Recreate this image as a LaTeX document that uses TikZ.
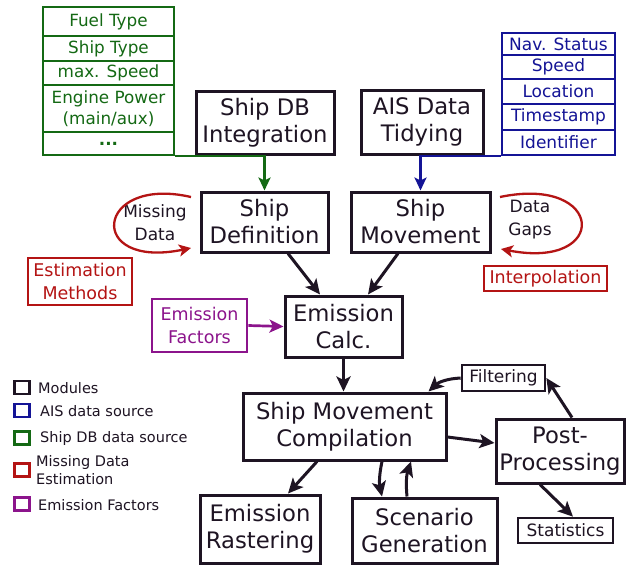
\documentclass[tikz,border=0pt]{standalone}
\usepackage{fontspec}
\setmainfont{DejaVu Sans}
\usetikzlibrary{arrows.meta}
\definecolor{myblack}{RGB}{30,20,35}
\definecolor{mygreen}{RGB}{20,105,20}
\definecolor{myblue}{RGB}{20,20,150}
\definecolor{myred}{RGB}{180,20,20}
\definecolor{mypurple}{RGB}{140,20,140}
\tikzset{
  module/.style={draw=myblack, line width=3pt, inner sep=0pt, align=center,
    text=myblack, font=\fontsize{22.7}{27}\selectfont},
  smallmod/.style={draw=myblack, line width=2.7pt, inner sep=0pt, align=center,
    text=myblack, font=\fontsize{17}{20}\selectfont},
  greenrow/.style={draw=mygreen, line width=2.3pt, inner sep=0pt, align=center,
    text=mygreen, minimum width=131pt, font=\fontsize{16.8}{21}\selectfont},
  bluerow/.style={draw=myblue, line width=2.3pt, inner sep=0pt, align=center,
    text=myblue, minimum width=113pt, font=\fontsize{17}{21}\selectfont},
  redbox/.style={draw=myred, line width=2.3pt, inner sep=0pt, align=center,
    text=myred, font=\fontsize{17.5}{23}\selectfont},
  purpbox/.style={draw=mypurple, line width=2.7pt, inner sep=0pt, align=center,
    text=mypurple, font=\fontsize{17.5}{23}\selectfont},
  lbl/.style={inner sep=0pt, align=center, text=myblack, font=\fontsize{17}{23}\selectfont},
  legsq/.style={draw=#1, line width=2.2pt, minimum width=15pt, minimum height=13pt, inner sep=0pt},
  legtxt/.style={inner sep=0pt, anchor=west, align=left, text=myblack, font=\fontsize{14.5}{18}\selectfont},
  arr/.style={draw=myblack, line width=3pt, -{Stealth[length=15pt,width=14pt,inset=3.5pt]}},
  carr/.style={line width=2.5pt, -{Stealth[length=13pt,width=12pt,inset=3pt]}},
  redarr/.style={draw=myred, line width=2.3pt, -{Stealth[length=12pt,width=12pt,inset=3pt]}}
}
\begin{document}
\begin{tikzpicture}[x=1pt,y=-1pt]
\useasboundingbox[fill=white] (0,0) rectangle (626,565);

% green table
\node[greenrow, minimum height=29pt] (g1) at (108.5,21.5) {Fuel Type};
\node[greenrow, minimum height=25pt] (g2) at (108.5,48.5) {Ship Type};
\node[greenrow, minimum height=24pt] (g3) at (108.5,73) {max. Speed};
\node[greenrow, minimum height=47pt] (g4) at (108.5,108.5) {Engine Power\\(main/aux)};
\node[greenrow, minimum height=23pt] (g5) at (108.5,143.5) {\textbf{...}};

% blue table
\node[bluerow, minimum height=22pt] (b1) at (558.5,44) {Nav. Status};
\node[bluerow, minimum height=24pt] (b2) at (558.5,67) {Speed};
\node[bluerow, minimum height=25pt] (b3) at (558.5,91.5) {Location};
\node[bluerow, minimum height=26pt] (b4) at (558.5,117) {Timestamp};
\node[bluerow, minimum height=25pt] (b5) at (558.5,142.5) {Identifier};

% modules
\node[module, minimum width=138pt, minimum height=63pt] (sdb) at (265,122.5) {Ship DB\\Integration};
\node[module, minimum width=122pt, minimum height=64pt] (ais) at (422,122) {AIS Data\\Tidying};
\node[module, minimum width=127pt, minimum height=60pt] (sdef) at (264.5,222) {Ship\\Definition};
\node[module, minimum width=139pt, minimum height=60pt] (smov) at (420.5,222) {Ship\\Movement};
\node[module, minimum width=117pt, minimum height=61pt] (ecalc) at (343.5,326.5) {Emission\\Calc.};
\node[module, minimum width=203pt, minimum height=67pt] (smc) at (344.5,426.5) {Ship Movement\\Compilation};
\node[module, minimum width=128pt, minimum height=64pt] (post) at (560,451) {Post-\\Processing};
\node[module, minimum width=120pt, minimum height=68pt] (rast) at (260,529) {Emission\\Rastering};
\node[module, minimum width=145pt, minimum height=65pt] (scen) at (424.5,530.5) {Scenario\\Generation};
\node[smallmod, minimum width=83pt, minimum height=26pt] (filt) at (503.5,378) {Filtering};
\node[smallmod, minimum width=95pt, minimum height=25pt] (stat) at (565.5,530.5) {Statistics};

% red / purple
\node[redbox, minimum width=104pt, minimum height=47pt] (est) at (80,281.5) {Estimation\\Methods};
\node[redbox, minimum width=123pt, minimum height=25pt] (interp) at (545.5,278.5) {Interpolation};
\node[purpbox, minimum width=95pt, minimum height=53pt] (ef) at (199.5,325.5) {Emission\\Factors};

\node[lbl] (mdl) at (155,223) {Missing\\Data};
\node[lbl] (dgl) at (530,220) {Data\\Gaps};

% data source connectors
\draw[mygreen, carr] (g5.south east) -| (sdef.north);
\draw[myblue, carr] (b5.south west) -| (smov.north);

% loops
\coordinate (md1) at (191,197);
\coordinate (md2) at (191,248);
\draw[redarr] (md1) .. controls (95,175) and (85,270) .. (md2);
\coordinate (dg1) at (500,197);
\coordinate (dg2) at (501,249);
\draw[redarr] (dg1) .. controls (605,175) and (610,270) .. (dg2);

% main flow
\draw[arr] ([xshift=23.5pt]sdef.south) -- ([xshift=-23.5pt]ecalc.north);
\draw[arr] ([xshift=-22.5pt]smov.south) -- ([xshift=24.5pt]ecalc.north);
\draw[draw=mypurple, line width=2.7pt, -{Stealth[length=14pt,width=13pt,inset=3.5pt]}] (ef.east) -- (ecalc.west);
\draw[arr] (ecalc.south) -- (ecalc.south |- smc.north);
\draw[arr] ([yshift=-10.5pt]smc.east) -- ([yshift=8pt]post.west);
\draw[arr] ([xshift=12pt]post.north) -- (filt.east);
\draw[arr] (filt.west) to[bend right=20] ([xshift=84pt]smc.north);
\draw[arr] ([xshift=-20pt]post.south) -- ([xshift=7.5pt]stat.north);
\draw[arr] ([xshift=-27.5pt]smc.south) -- ([xshift=28pt]rast.north);
\draw[arr] ([xshift=37.5pt]smc.south) to[bend right=12] ([xshift=-42.5pt]scen.north);
\draw[arr] ([xshift=-17.5pt]scen.north) to[bend left=12] ([xshift=66.5pt]smc.south);

% legend
\node[legsq=myblack] (l1) at (22,387.5) {};
\node[legsq=myblue] (l2) at (22,410.5) {};
\node[legsq=mygreen] (l3) at (22,438) {};
\node[legsq=myred] (l4) at (22,470) {};
\node[legsq=mypurple] (l5) at (22,504) {};
\node[legtxt] (t1) at (38,388) {Modules};
\node[legtxt] (t2) at (40,411) {AIS data source};
\node[legtxt] (t3) at (40,438) {Ship DB data source};
\node[legtxt] (t4) at (36,470) {Missing Data\\Estimation};
\node[legtxt] (t5) at (38,505) {Emission Factors};
\end{tikzpicture}
\end{document}
